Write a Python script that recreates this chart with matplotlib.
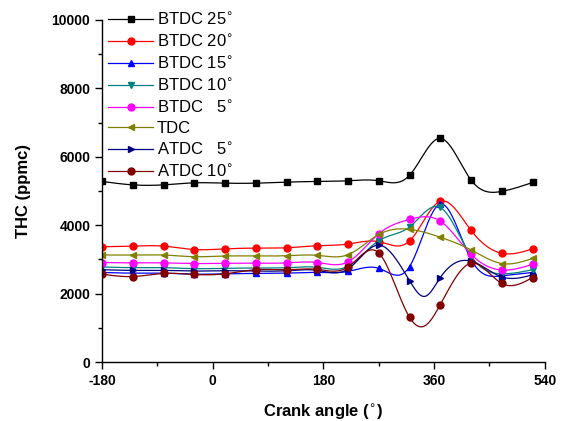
import numpy as np
import matplotlib
matplotlib.use("Agg")
import matplotlib.pyplot as plt
from matplotlib.ticker import MultipleLocator

plt.rcParams['font.family'] = ['Liberation Sans', 'DejaVu Sans']
plt.rcParams['axes.unicode_minus'] = False

crank_angle = [-180, -130, -80, -30, 20, 70, 120, 170, 220, 270, 320, 370, 420, 470, 520]

btdc25 = [5280, 5180, 5180, 5240, 5230, 5230, 5260, 5280, 5300, 5300, 5460, 6540, 5320, 4990, 5250]
btdc20 = [3370, 3390, 3390, 3290, 3310, 3330, 3340, 3400, 3450, 3520, 3540, 4700, 3850, 3180, 3310]
btdc15 = [2620, 2600, 2600, 2570, 2580, 2590, 2600, 2620, 2650, 2740, 2790, 4620, 3000, 2520, 2620]
btdc10 = [2780, 2760, 2760, 2730, 2740, 2750, 2760, 2770, 2800, 3550, 3950, 4520, 3100, 2580, 2700]
btdc5 = [2910, 2900, 2900, 2880, 2890, 2890, 2900, 2910, 2930, 3750, 4170, 4120, 3150, 2690, 2860]
tdc = [3130, 3130, 3130, 3080, 3100, 3100, 3110, 3120, 3140, 3730, 3880, 3650, 3280, 2880, 3030]
atdc5 = [2700, 2680, 2680, 2660, 2670, 2660, 2670, 2680, 2720, 3420, 2380, 2470, 2950, 2490, 2550]
atdc10 = [2570, 2500, 2590, 2560, 2580, 2700, 2700, 2710, 2780, 3190, 1310, 1680, 2890, 2300, 2470]

# Curve minima between the 320 and 370 samples (line only, no marker)
dip_angle = 345
atdc5_dip = 1920
atdc10_dip = 1060

labels = ["BTDC 25$^{\\circ}$", "BTDC 20$^{\\circ}$", "BTDC 15$^{\\circ}$", "BTDC 10$^{\\circ}$",
          "BTDC   5$^{\\circ}$", "TDC", "ATDC   5$^{\\circ}$", "ATDC 10$^{\\circ}$"]
series = [btdc25, btdc20, btdc15, btdc10, btdc5, tdc, atdc5, atdc10]
dips = [None, None, None, None, None, None, atdc5_dip, atdc10_dip]
colors = ["#000000", "#ff0000", "#0000ff", "#008080", "#ff00ff", "#808000", "#000080", "#800000"]
markers = ["s", "o", "^", "v", "o", "<", ">", "o"]


def natural_spline(x, y, xs):
    x = np.asarray(x, float)
    y = np.asarray(y, float)
    n = len(x)
    h = np.diff(x)
    A = np.zeros((n, n))
    b = np.zeros(n)
    A[0, 0] = 1
    A[-1, -1] = 1
    for i in range(1, n - 1):
        A[i, i - 1] = h[i - 1]
        A[i, i] = 2 * (h[i - 1] + h[i])
        A[i, i + 1] = h[i]
        b[i] = 6 * ((y[i + 1] - y[i]) / h[i] - (y[i] - y[i - 1]) / h[i - 1])
    M = np.linalg.solve(A, b)
    idx = np.clip(np.searchsorted(x, xs) - 1, 0, n - 2)
    x0, x1 = x[idx], x[idx + 1]
    hh = x1 - x0
    t0 = x1 - xs
    t1 = xs - x0
    return (M[idx] * t0 ** 3 / (6 * hh) + M[idx + 1] * t1 ** 3 / (6 * hh)
            + (y[idx] / hh - M[idx] * hh / 6) * t0 + (y[idx + 1] / hh - M[idx + 1] * hh / 6) * t1)


fig = plt.figure(figsize=(5.64, 4.21), dpi=100)
ax = fig.add_axes([0.181, 0.140, 0.785, 0.8125])

xs = np.arange(crank_angle[0], crank_angle[-1] + 1, 1.0)
mark_idx = [int(round(v - crank_angle[0])) for v in crank_angle]

for y, d, lab, c, m in zip(series, dips, labels, colors, markers):
    kx = list(crank_angle)
    ky = list(y)
    if d is not None:
        pos = kx.index(370)
        kx.insert(pos, dip_angle)
        ky.insert(pos, d)
    ys = natural_spline(kx, ky, xs)
    ax.plot(xs, ys, color=c, lw=0.9, marker=m, markevery=mark_idx, markersize=5,
            markerfacecolor=c, markeredgecolor=c, label=lab)

ax.set_xlim(-180, 540)
ax.set_ylim(0, 10000)
ax.xaxis.set_major_locator(MultipleLocator(180))
ax.xaxis.set_minor_locator(MultipleLocator(90))
ax.yaxis.set_major_locator(MultipleLocator(2000))
ax.yaxis.set_minor_locator(MultipleLocator(1000))
ax.spines['top'].set_visible(False)
ax.spines['right'].set_visible(False)
for s in ('left', 'bottom'):
    ax.spines[s].set_linewidth(1.0)
ax.tick_params(which='major', direction='out', length=5, width=1, labelsize=10)
ax.tick_params(which='minor', direction='out', length=3, width=1)
for t in ax.get_xticklabels() + ax.get_yticklabels():
    t.set_fontweight('bold')

ax.set_xlabel("Crank angle ($^{\\circ}$)", fontsize=12, fontweight='bold', labelpad=10)
ax.set_ylabel("THC (ppmc)", fontsize=12, fontweight='bold', labelpad=15)

leg = ax.legend(loc='upper left', bbox_to_anchor=(-0.012, 1.06), frameon=False, fontsize=12,
                labelspacing=0.30, handlelength=2.7, handletextpad=0.2, borderaxespad=0.3)

fig.savefig("out.png", dpi=100)
